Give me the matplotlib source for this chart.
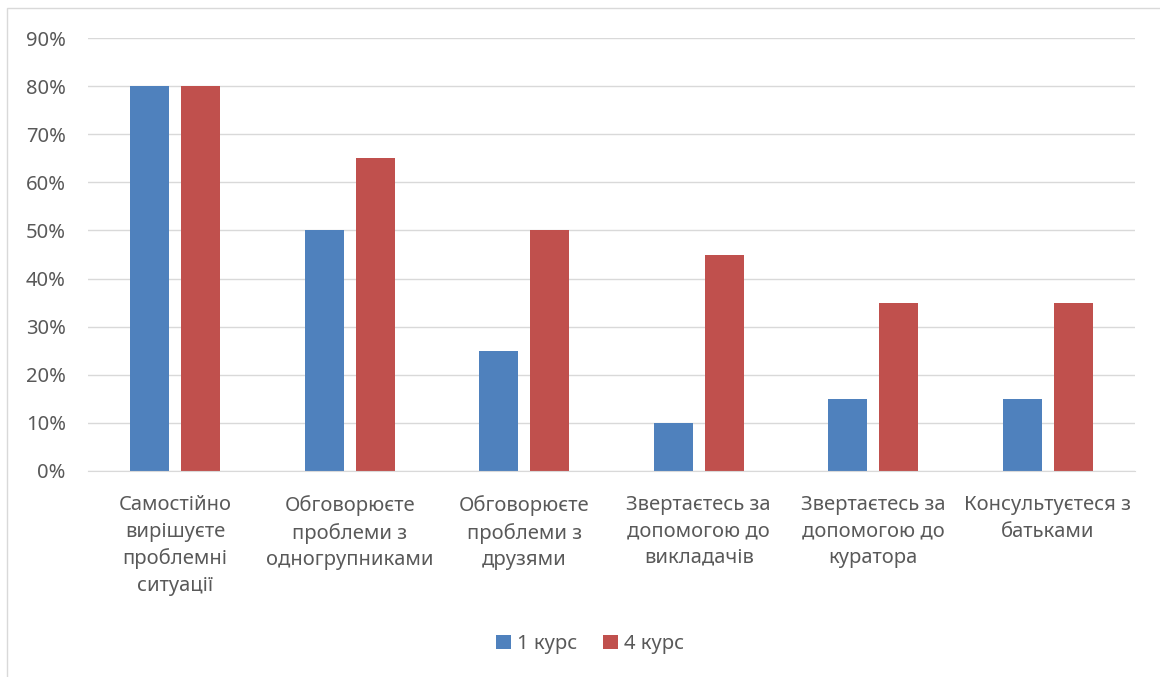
import matplotlib.pyplot as plt
import numpy as np
from matplotlib.patches import Rectangle

# дані
categories = ["Самостійно\nвирішуєте\nпроблемні\nситуації",
              "Обговорюєте\nпроблеми з\nодногрупниками",
              "Обговорюєте\nпроблеми з\nдрузями",
              "Звертаєтесь за\nдопомогою до\nвикладачів",
              "Звертаєтесь за\nдопомогою до\nкуратора",
              "Консультуєтеся з\nбатьками"]
kurs1 = [80, 50, 25, 10, 15, 15]
kurs4 = [80, 65, 50, 45, 35, 35]
series_names = ["1 курс", "4 курс"]
yticks = [0, 10, 20, 30, 40, 50, 60, 70, 80, 90]

plt.rcParams["font.family"] = ["Noto Sans", "DejaVu Sans"]
text_color = "#595959"

fig = plt.figure(figsize=(11.6, 6.77), dpi=100)
ax = fig.add_axes([88 / 1160, 1 - 471 / 677, (1135 - 88) / 1160, (471 - 38) / 677])

# рамка області діаграми
fig.patches.append(Rectangle((7 / 1160, -0.01), 1.1, 1 - 8 / 677 + 0.01,
                             transform=fig.transFigure, fill=False,
                             edgecolor="#D9D9D9", linewidth=1))

x = np.arange(len(categories))
w = 0.224
off = 0.146
ax.bar(x - off, kurs1, w, color="#4F81BD", label=series_names[0], zorder=2)
ax.bar(x + off, kurs4, w, color="#C0504D", label=series_names[1], zorder=2)

ax.set_xlim(-0.5, len(categories) - 0.5)
ax.set_ylim(0, 90)
ax.set_yticks(yticks)
ax.set_yticklabels([f"{v}%" for v in yticks], fontsize=14.5, color=text_color)
ax.set_xticks(x)
ax.set_xticklabels(categories, fontsize=14.5, color=text_color, linespacing=1.42, va="top")
ax.tick_params(axis="both", length=0)
ax.tick_params(axis="y", pad=16)
ax.tick_params(axis="x", pad=17.5)
ax.grid(axis="y", color="#D9D9D9", linewidth=1, zorder=0)
for s in ["top", "right", "left"]:
    ax.spines[s].set_visible(False)
ax.spines["bottom"].set_color("#D9D9D9")

leg = fig.legend(loc="center", bbox_to_anchor=(590 / 1160, 1 - 644 / 677), ncol=2,
                 frameon=False, fontsize=14.5, handlelength=0.75, handleheight=0.75,
                 handletextpad=0.3, columnspacing=1.3)
for t in leg.get_texts():
    t.set_color(text_color)

fig.savefig("out.png", dpi=100)
